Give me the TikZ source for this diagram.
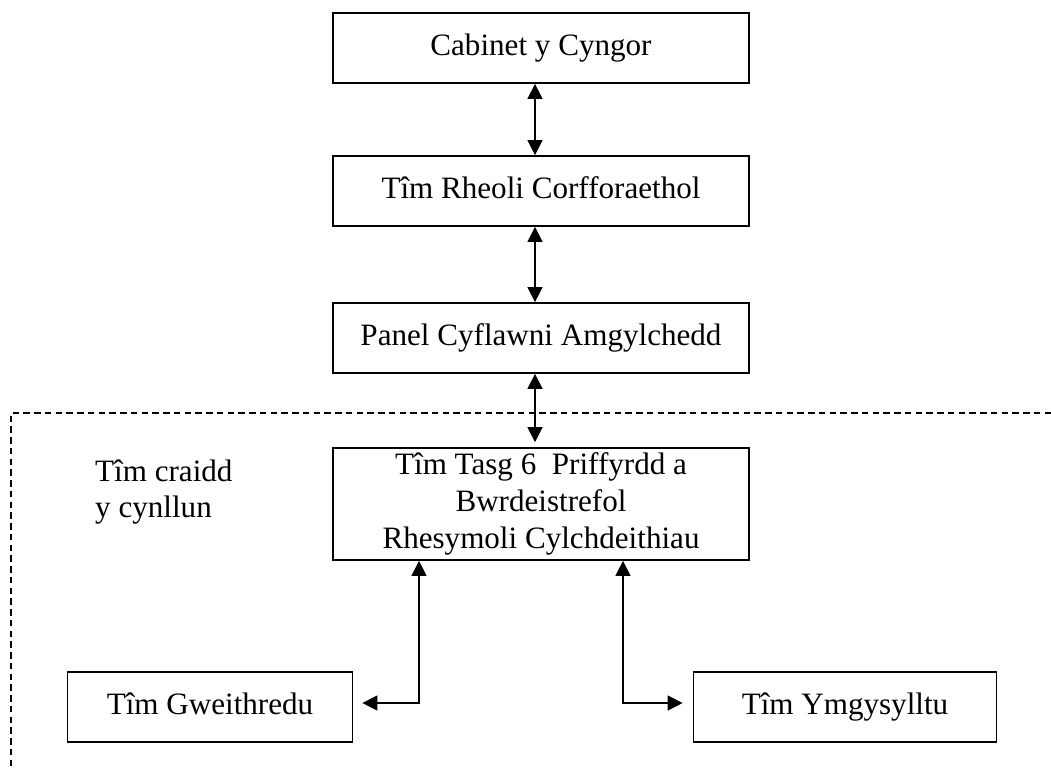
\documentclass[tikz,border=0pt]{standalone}
\usepackage{fontspec}
\setmainfont{Liberation Serif}
\usetikzlibrary{arrows.meta}

\begin{document}
\begin{tikzpicture}[
    x=0.02cm, y=-0.02cm,
    font=\fontsize{17.7}{21}\selectfont,
    boxstyle/.style={rectangle, draw, line width=1pt, minimum height=1.4cm, align=center, inner sep=2pt},
    topbox/.style={boxstyle, minimum width=8.32cm, text height=0.8em, text depth=0em},
    teambox/.style={boxstyle, minimum width=5.7cm, text height=0.8em, text depth=0em},
    biarrow/.style={{Triangle[length=0.3cm,width=0.3cm]}-{Triangle[length=0.3cm,width=0.3cm]}, line width=0.7pt},
    frameline/.style={line width=0.7pt, dash pattern=on 0.13cm off 0.085cm}
]
\useasboundingbox (0,0) rectangle (1051,769);

% Management chain (centre column)
\node[topbox] (cabinet) at (541,48) {Cabinet y Cyngor};
\node[topbox] (rheoli) at (541,191) {Tîm Rheoli Corfforaethol};
\node[topbox] (panel) at (541,338) {Panel Cyflawni Amgylchedd};
\node[boxstyle, minimum width=8.32cm, minimum height=2.24cm] (tasg) at (541,504) {Tîm Tasg 6\ \ Priffyrdd a\\Bwrdeistrefol\\Rhesymoli Cylchdeithiau};

% Core team boundary
\draw[frameline] (1051,413) -- (11,413) -- (11,769);
\node[align=left, anchor=west] (craidd) at (89,492) {Tîm craidd\\y cynllun};

% Teams (bottom row)
\node[teambox] (gweith) at (210,707) {Tîm Gweithredu};
\node[teambox, minimum width=6.06cm] (ymgys) at (845,707) {Tîm Ymgysylltu};

% Two-way links
\draw[biarrow] ([xshift=-0.12cm]cabinet.south) -- ([xshift=-0.12cm]rheoli.north);
\draw[biarrow] ([xshift=-0.12cm]rheoli.south) -- ([xshift=-0.12cm]panel.north);
\draw[biarrow, shorten >=0.1cm] ([xshift=-0.12cm]panel.south) -- ([xshift=-0.12cm]tasg.north);
\draw[biarrow] ([xshift=-2.44cm]tasg.south) |- ([xshift=0.18cm, yshift=0.08cm]gweith.east);
\draw[biarrow] ([xshift=1.64cm]tasg.south) |- ([xshift=-0.2cm, yshift=0.08cm]ymgys.west);

\end{tikzpicture}
\end{document}
